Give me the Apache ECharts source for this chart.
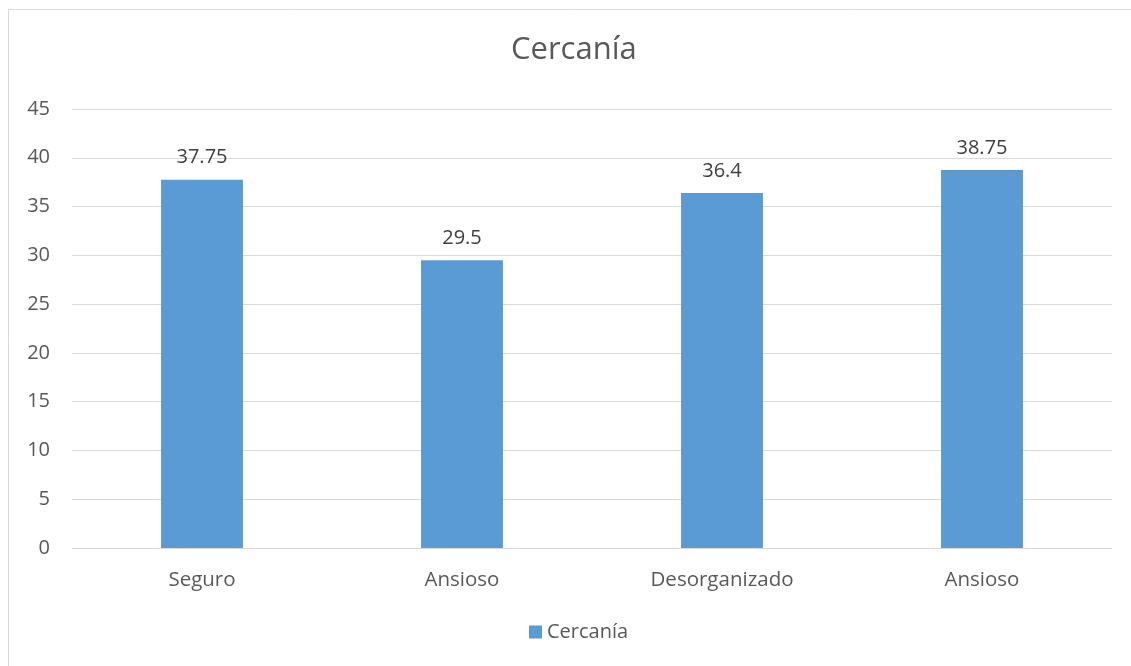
<!DOCTYPE html>
<html>
<head>
<meta charset="utf-8">
<script src="https://cdn.jsdelivr.net/npm/echarts@6/dist/echarts.min.js"></script>
<style>
    html, body { margin: 0; padding: 0; background: #fff; }
    #chart { width: 1131px; height: 666px; }
</style>
</head>
<body>
<div id="chart"></div>
<script>
// datos
var categorias = ['Seguro', 'Ansioso', 'Desorganizado', 'Ansioso'];
var cercania = [37.75, 29.5, 36.4, 38.75];
var serieNombre = 'Cercanía';

var chart = echarts.init(document.getElementById('chart'));
var fuente = '"Open Sans", "Noto Sans", sans-serif';

var option = {
    backgroundColor: '#fff',
    animation: false,
    title: {
        text: 'Cercanía',
        left: 506,
        top: 30,
        textStyle: { color: '#595959', fontSize: 31, fontWeight: 'normal', fontFamily: fuente }
    },
    graphic: [{
        type: 'rect',
        shape: { x: 8.5, y: 9.5, width: 1130, height: 670 },
        style: { fill: 'none', stroke: '#d9d9d9', lineWidth: 1 },
        silent: true
    }],
    legend: {
        bottom: 19,
        left: 524,
        itemWidth: 13,
        itemHeight: 13,
        icon: 'rect',
        itemGap: 6,
        textStyle: { color: '#595959', fontSize: 20, fontFamily: fuente },
        data: [serieNombre]
    },
    grid: { left: 72, right: 19, top: 109, bottom: 118 },
    xAxis: {
        type: 'category',
        data: categorias,
        axisTick: { show: false },
        axisLine: { lineStyle: { color: '#d9d9d9' } },
        axisLabel: { color: '#595959', fontSize: 20.5, fontFamily: fuente, margin: 22 }
    },
    yAxis: {
        type: 'value',
        min: 0,
        max: 45,
        interval: 5,
        axisLine: { show: false },
        axisTick: { show: false },
        splitLine: { lineStyle: { color: '#d9d9d9' } },
        axisLabel: { color: '#595959', fontSize: 20, fontFamily: fuente, margin: 22 }
    },
    series: [{
        name: serieNombre,
        type: 'bar',
        data: cercania,
        barWidth: '31.5%',
        itemStyle: { color: '#5b9bd5' },
        label: {
            show: true,
            position: 'top',
            distance: 12,
            color: '#404040',
            fontSize: 20,
            fontFamily: fuente
        }
    }]
};

chart.setOption(option);
window.addEventListener('resize', function () {
    chart.resize();
});
</script>
</body>
</html>
